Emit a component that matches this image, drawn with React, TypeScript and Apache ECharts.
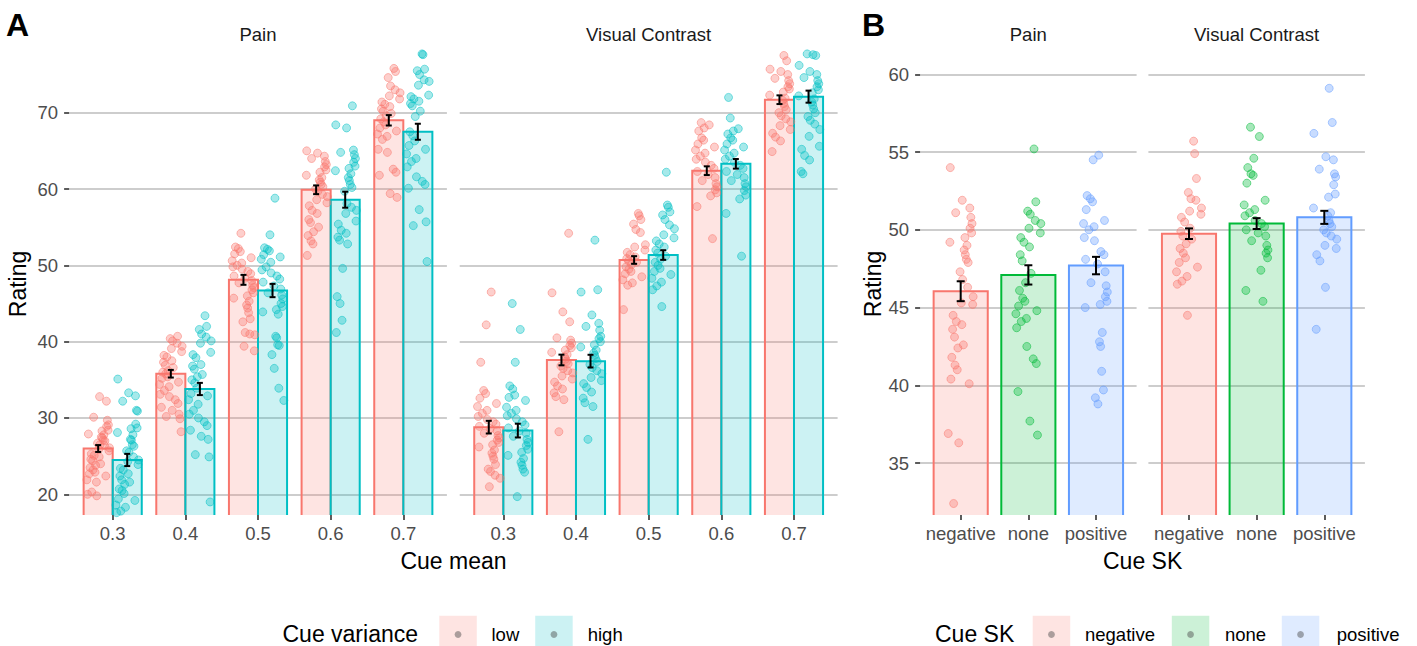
import React, { useEffect, useRef } from "react";
import * as echarts from "echarts";

// ---------- categories ----------
const cueMeans = ["0.3", "0.4", "0.5", "0.6", "0.7"];
const varianceLevels = ["low", "high"];
const skLevels = ["negative", "none", "positive"];
const tasks = ["Pain", "Visual Contrast"];
const yTicksA = [20, 30, 40, 50, 60, 70];
const yTicksB = [35, 40, 45, 50, 55, 60];

// ---------- panel A: bar means and SE ----------
const painLowMean = [26.0, 35.8, 48.1, 59.9, 69.0];
const painLowSE = [0.45, 0.5, 0.65, 0.57, 0.68];
const painHighMean = [24.5, 33.8, 46.7, 58.6, 67.5];
const painHighSE = [0.8, 0.8, 0.87, 1.05, 1.05];
const vcLowMean = [28.8, 37.6, 50.7, 62.4, 71.7];
const vcLowSE = [0.83, 0.7, 0.5, 0.57, 0.57];
const vcHighMean = [28.35, 37.45, 51.35, 63.3, 72.1];
const vcHighSE = [0.9, 0.83, 0.63, 0.63, 0.79];

// ---------- panel B: bar means and SE ----------
const skPainMean = [46.05, 47.1, 47.7];
const skPainSE = [0.64, 0.62, 0.56];
const skVcMean = [49.75, 50.4, 50.8];
const skVcSE = [0.34, 0.35, 0.42];

// ---------- panel A: individual ratings ----------
const painLow03 = [32.8, 32.2, 30.1, 29.7, 29.1, 28.9, 28.4, 28.3, 27.9, 27.8, 27.5, 27.4, 27.1, 27.0, 26.7, 26.5, 26.4, 26.1, 25.9, 25.7, 25.3, 25.1, 24.9, 24.6, 24.4, 24.0, 23.8, 23.5, 23.2, 22.9, 22.7, 22.4, 21.9, 21.6, 20.3, 20.0, 19.8];
const painLow04 = [40.7, 40.4, 40.1, 39.8, 39.4, 39.1, 38.7, 38.2, 38.0, 37.5, 37.3, 36.9, 36.6, 36.2, 36.0, 35.8, 35.4, 35.2, 34.7, 34.4, 34.1, 33.6, 33.1, 32.8, 32.4, 31.9, 31.4, 31.0, 30.5, 30.2, 29.9, 28.2];
const painLow05 = [54.2, 52.4, 52.2, 51.8, 51.5, 51.0, 50.6, 50.3, 50.0, 49.8, 49.5, 49.2, 48.9, 48.6, 48.3, 48.0, 47.7, 47.4, 47.1, 46.8, 46.4, 46.0, 45.7, 45.3, 44.8, 44.4, 43.8, 43.0, 42.6, 41.2, 41.0, 40.9, 39.4, 38.8];
const painLow06 = [65.0, 64.7, 64.3, 64.0, 63.6, 63.2, 62.9, 62.5, 62.2, 61.8, 61.5, 61.2, 60.9, 60.6, 60.3, 60.0, 59.7, 59.3, 59.0, 58.6, 58.2, 57.8, 57.2, 56.8, 56.0, 55.6, 55.0, 54.4, 53.9, 53.2, 52.8, 51.3];
const painLow07 = [75.8, 75.4, 74.6, 73.5, 73.0, 72.6, 72.2, 71.8, 71.4, 71.1, 70.8, 70.5, 70.2, 69.9, 69.6, 69.2, 68.8, 68.4, 68.0, 67.6, 67.2, 66.9, 66.5, 65.2, 64.8, 62.6, 62.2, 61.8, 59.4, 58.9];

const painHigh03 = [35.1, 33.3, 32.9, 32.2, 31.0, 30.9, 29.2, 28.7, 28.6, 28.1, 27.8, 27.2, 27.1, 26.5, 26.3, 25.7, 25.5, 24.9, 24.5, 24.3, 23.9, 23.4, 23.2, 22.7, 22.4, 21.9, 21.6, 21.3, 20.7, 20.5, 20.1, 19.4, 19.2, 18.6, 18.3, 17.8, 17.6];
const painHigh04 = [43.4, 42.0, 41.6, 41.0, 40.6, 40.1, 39.8, 38.6, 38.3, 37.9, 37.0, 36.8, 36.4, 35.7, 35.4, 35.0, 34.6, 33.9, 33.2, 32.9, 32.4, 31.8, 31.0, 30.5, 30.0, 29.5, 29.0, 28.4, 27.6, 27.2, 25.2, 24.9, 19.0];
const painHigh05 = [58.8, 54.0, 52.3, 52.1, 51.9, 51.4, 51.1, 50.8, 50.4, 49.8, 49.4, 49.0, 48.6, 48.2, 47.8, 47.3, 46.9, 46.4, 46.1, 45.6, 45.0, 44.6, 44.2, 43.9, 43.6, 40.7, 40.5, 39.6, 39.5, 38.3, 36.5, 33.9, 32.3];
const painHigh06 = [70.9, 68.4, 68.0, 65.1, 64.8, 64.5, 64.0, 63.5, 63.0, 62.7, 62.4, 62.0, 61.5, 61.1, 60.6, 60.2, 59.7, 58.1, 57.6, 57.2, 56.8, 55.8, 55.4, 54.6, 54.2, 53.7, 53.3, 52.8, 49.6, 45.9, 45.0, 42.8, 41.2];
const painHigh07 = [77.7, 77.6, 75.7, 75.5, 75.0, 74.3, 74.1, 73.6, 72.3, 72.1, 71.8, 71.5, 71.2, 70.9, 70.2, 69.5, 67.5, 67.0, 66.3, 65.7, 65.2, 64.6, 64.0, 63.6, 62.9, 61.6, 61.0, 60.6, 60.1, 57.3, 55.7, 55.2, 50.5];

const vcLow03 = [46.5, 42.2, 37.3, 33.6, 33.2, 32.6, 31.9, 31.5, 31.0, 30.6, 30.2, 29.8, 29.5, 29.2, 28.9, 28.6, 28.3, 28.0, 27.7, 27.4, 27.1, 26.8, 26.5, 26.2, 25.8, 25.4, 25.0, 24.6, 23.9, 23.3, 23.0, 22.5, 22.1, 21.0];
const vcLow04 = [54.2, 46.4, 43.9, 42.6, 40.5, 40.2, 39.8, 39.5, 39.2, 38.9, 38.6, 38.3, 38.0, 37.7, 37.4, 37.1, 36.8, 36.5, 36.2, 35.9, 35.5, 35.1, 34.7, 34.2, 33.8, 33.3, 32.8, 32.4, 28.2];
const vcLow05 = [56.8, 56.5, 56.0, 55.4, 54.7, 54.3, 52.7, 52.4, 52.0, 51.7, 51.4, 51.1, 50.9, 50.6, 50.4, 50.1, 49.8, 49.5, 49.2, 48.9, 48.5, 48.1, 47.7, 47.4, 44.2];
const vcLow06 = [68.7, 68.4, 68.0, 67.6, 66.7, 66.4, 65.9, 65.5, 65.1, 64.7, 64.3, 63.9, 63.5, 63.1, 62.7, 62.3, 61.9, 61.5, 61.1, 60.7, 60.3, 59.9, 59.5, 59.1, 57.7, 53.5];
const vcLow07 = [77.5, 76.8, 75.7, 75.4, 75.0, 74.5, 74.2, 73.8, 73.4, 73.1, 72.7, 72.3, 71.9, 71.6, 71.2, 70.8, 70.4, 70.0, 69.6, 69.2, 68.8, 68.3, 67.8, 67.3, 66.8, 66.3, 64.9];

const vcHigh03 = [45.0, 41.6, 37.3, 34.2, 33.8, 33.0, 32.7, 32.3, 31.4, 31.0, 30.6, 30.3, 29.9, 29.5, 29.1, 28.7, 28.3, 28.0, 27.6, 27.2, 26.8, 26.4, 25.9, 25.5, 25.1, 24.7, 24.2, 23.8, 23.3, 22.9, 19.7];
const vcHigh04 = [53.3, 46.8, 46.5, 43.5, 42.4, 42.0, 41.5, 40.7, 40.4, 40.0, 39.6, 39.3, 38.9, 38.5, 38.2, 37.8, 37.4, 37.0, 36.6, 36.2, 35.8, 35.3, 34.9, 34.5, 34.0, 33.4, 32.6, 32.0, 31.5, 27.2];
const vcHigh05 = [62.2, 57.9, 57.6, 57.0, 56.6, 56.0, 55.3, 54.8, 54.0, 53.6, 53.2, 52.8, 52.4, 52.0, 51.6, 51.2, 50.8, 50.4, 50.0, 49.6, 49.2, 48.8, 48.3, 47.8, 47.3, 46.8, 44.6];
const vcHigh06 = [72.0, 69.3, 67.9, 67.6, 67.2, 66.7, 66.4, 65.9, 65.5, 65.1, 64.7, 64.3, 63.9, 63.5, 63.1, 62.7, 62.3, 61.9, 61.5, 61.1, 60.7, 60.3, 59.8, 59.2, 58.7, 56.8, 51.2];
const vcHigh07 = [77.7, 77.6, 77.5, 76.2, 75.4, 75.0, 74.6, 74.2, 73.8, 73.4, 73.0, 72.6, 72.2, 71.8, 71.4, 71.0, 70.5, 70.0, 69.5, 69.0, 68.5, 67.8, 66.9, 65.6, 65.2, 64.4, 63.8, 62.3, 62.0];

// ---------- panel B: individual ratings ----------
const skPainNegative = [54.0, 51.9, 51.4, 51.1, 50.8, 50.4, 50.1, 49.8, 49.5, 49.2, 49.0, 48.7, 48.4, 48.1, 47.9, 47.3, 46.8, 46.3, 45.7, 45.3, 45.2, 44.5, 44.1, 43.9, 43.6, 43.1, 42.6, 42.4, 41.8, 41.3, 41.0, 40.4, 40.1, 36.9, 36.3, 32.4];
const skPainNone = [55.2, 51.8, 51.2, 51.0, 50.6, 50.4, 50.1, 49.8, 49.5, 49.2, 48.9, 48.4, 48.0, 47.2, 46.6, 46.1, 45.6, 45.4, 45.1, 44.8, 44.6, 44.3, 44.1, 43.7, 42.5, 41.7, 41.4, 39.6, 37.7, 36.8];
const skPainPositive = [54.8, 54.5, 52.2, 52.0, 51.8, 51.3, 50.6, 50.4, 50.2, 50.0, 49.5, 49.3, 48.6, 48.4, 48.1, 47.8, 47.3, 46.6, 46.4, 46.0, 45.7, 45.4, 45.2, 45.0, 43.4, 42.8, 42.5, 40.9, 39.7, 39.2, 38.8];
const skVcNegative = [55.7, 54.9, 53.3, 52.4, 52.0, 51.9, 51.4, 51.2, 51.0, 50.8, 50.5, 50.1, 49.9, 49.6, 49.4, 49.1, 48.8, 48.5, 48.2, 47.9, 47.6, 47.3, 47.0, 46.7, 46.5, 44.5];
const skVcNone = [56.6, 56.0, 54.6, 54.0, 53.6, 53.5, 53.0, 51.9, 51.6, 51.3, 51.1, 50.9, 50.6, 50.4, 50.2, 50.0, 49.8, 49.6, 49.3, 49.0, 48.7, 48.5, 48.2, 47.4, 46.1, 45.4];
const skVcPositive = [59.1, 56.9, 56.2, 54.7, 54.5, 53.9, 53.6, 53.4, 52.9, 52.3, 52.1, 51.4, 51.1, 50.9, 50.6, 50.4, 50.2, 50.0, 49.8, 49.6, 49.4, 49.0, 48.8, 48.4, 48.0, 46.3, 43.6];

// fixed horizontal jitter pattern (fractions of the jitter half-width)
const jitterPattern = [0.12, -0.63, 0.85, -0.27, 0.44, -0.91, 0.05, 0.71, -0.48, 0.33, -0.76, 0.58, -0.12, 0.93, -0.39, 0.21, -0.84, 0.66, -0.05, 0.38, -0.59, 0.79, -0.22, 0.49, -0.97, 0.15, 0.62, -0.34, 0.88, -0.69, 0.27, -0.15, 0.54, -0.81, 0.09, 0.73, -0.44, 0.36, -0.55, 0.97];

const FONT = '"Liberation Sans", Arial, Helvetica, sans-serif';
const RED = [248, 118, 109];
const TEAL = [0, 191, 196];
const GREEN = [0, 186, 56];
const BLUE = [97, 156, 255];
const rgba = (c: number[], a: number) => `rgba(${c[0]},${c[1]},${c[2]},${a})`;

const A_MIN = 17.29;
const A_MAX = 77.78;
const B_MIN = 31.66;
const B_MAX = 61.35;

function jit(i: number, seed: number) {
  return jitterPattern[(i * 7 + seed * 11) % jitterPattern.length];
}

function barSeries(grid: number, data: number[][], color: number[], halfW: number, yMin: number) {
  return {
    type: "custom",
    xAxisIndex: grid,
    yAxisIndex: grid,
    z: 2,
    silent: true,
    data,
    renderItem: (params: any, api: any) => {
      const x = api.value(0) + api.value(3);
      const m = api.value(1);
      const tl = api.coord([x - halfW, m]);
      const br = api.coord([x + halfW, yMin]);
      return {
        type: "group",
        children: [
          {
            type: "rect",
            shape: { x: tl[0], y: tl[1], width: br[0] - tl[0], height: br[1] - tl[1] },
            style: { fill: rgba(color, 0.2) },
          },
          {
            type: "polyline",
            shape: { points: [[tl[0], br[1]], [tl[0], tl[1]], [br[0], tl[1]], [br[0], br[1]]] },
            style: { stroke: rgba(color, 1), lineWidth: 2, fill: "none" },
          },
        ],
      };
    },
  };
}

function errSeries(grid: number, data: number[][], capPx: number) {
  return {
    type: "custom",
    xAxisIndex: grid,
    yAxisIndex: grid,
    z: 4,
    silent: true,
    data,
    renderItem: (params: any, api: any) => {
      const x = api.value(0) + api.value(3);
      const m = api.value(1);
      const se = api.value(2);
      const top = api.coord([x, m + se]);
      const bot = api.coord([x, m - se]);
      const st = { stroke: "#000", lineWidth: 2 };
      return {
        type: "group",
        children: [
          { type: "line", shape: { x1: top[0], y1: top[1], x2: bot[0], y2: bot[1] }, style: st },
          { type: "line", shape: { x1: top[0] - capPx, y1: top[1], x2: top[0] + capPx, y2: top[1] }, style: st },
          { type: "line", shape: { x1: bot[0] - capPx, y1: bot[1], x2: bot[0] + capPx, y2: bot[1] }, style: st },
        ],
      };
    },
  };
}

// groups[c] = ratings for category c; drawn at category c + offset with jitter
function pointSeries(grid: number, groups: number[][], cats: number[], offset: number, jw: number, color: number[], seed: number) {
  const data: number[][] = [];
  groups.forEach((vals, gi) => {
    const c = cats[gi];
    vals.forEach((v, i) => {
      data.push([c + offset + jit(i, seed + c) * jw, v]);
    });
  });
  return {
    type: "scatter",
    xAxisIndex: grid,
    yAxisIndex: grid,
    z: 3,
    silent: true,
    symbol: "circle",
    symbolSize: 8,
    clip: true,
    itemStyle: { color: rgba(color, 0.35), borderColor: rgba(color, 0.55), borderWidth: 0.9, opacity: 1 },
    data,
  };
}

const meanData = (means: number[], ses: number[], off: number) => means.map((m, c) => [c, m, ses[c], off]);

export default function App() {
  const ref = useRef<HTMLDivElement>(null);
  useEffect(() => {
    document.body.style.margin = "0";
    if (!ref.current) return;
    const chart = echarts.init(ref.current, null, { renderer: "svg" });

    const grids = [
      { left: 69.1, top: 53.3, width: 377.8, height: 461.7 },
      { left: 459.7, top: 53.3, width: 377.9, height: 461.7 },
      { left: 920.1, top: 53.3, width: 216.5, height: 461.7 },
      { left: 1148.4, top: 53.3, width: 216.5, height: 461.7 },
    ];

    const xAxis = grids.map((_, g) => {
      const labels = g < 2 ? cueMeans : skLevels;
      const idx = labels.map((_, i) => i);
      return {
        type: "value",
        gridIndex: g,
        min: -0.6,
        max: labels.length - 0.4,
        splitLine: { show: false },
        axisLine: { show: false, onZero: false },
        axisTick: { show: true, customValues: idx, length: 5, lineStyle: { color: "#333", width: 1.6 } },
        axisLabel: {
          show: true,
          customValues: idx,
          formatter: (v: number) => labels[Math.round(v)] ?? "",
          color: "#4d4d4d",
          fontSize: 18.5,
          fontFamily: FONT,
          margin: 9,
        },
      };
    });

    const yAxis = grids.map((_, g) => {
      const ticks = g < 2 ? yTicksA : yTicksB;
      const showLab = g === 0 || g === 2;
      return {
        type: "value",
        gridIndex: g,
        min: g < 2 ? A_MIN : B_MIN,
        max: g < 2 ? A_MAX : B_MAX,
        axisLine: { show: false, onZero: false },
        axisTick: { show: showLab, customValues: ticks, length: 5, lineStyle: { color: "#333", width: 1.6 } },
        axisLabel: {
          show: showLab,
          customValues: ticks,
          color: "#4d4d4d",
          fontSize: 18.5,
          fontFamily: FONT,
          margin: 11,
        },
        splitLine: { show: true, lineStyle: { color: "#bdbdbd", width: 1.6 } },
      };
    });

    const catsA = cueMeans.map((_, i) => i);
    const painLowPts = [painLow03, painLow04, painLow05, painLow06, painLow07];
    const painHighPts = [painHigh03, painHigh04, painHigh05, painHigh06, painHigh07];
    const vcLowPts = [vcLow03, vcLow04, vcLow05, vcLow06, vcLow07];
    const vcHighPts = [vcHigh03, vcHigh04, vcHigh05, vcHigh06, vcHigh07];
    const skPainPts = [skPainNegative, skPainNone, skPainPositive];
    const skVcPts = [skVcNegative, skVcNone, skVcPositive];
    const skColors = [RED, GREEN, BLUE];

    const series: any[] = [];
    // Panel A
    const aPanels = [
      { g: 0, levels: [[painLowMean, painLowSE, painLowPts], [painHighMean, painHighSE, painHighPts]] },
      { g: 1, levels: [[vcLowMean, vcLowSE, vcLowPts], [vcHighMean, vcHighSE, vcHighPts]] },
    ];
    aPanels.forEach((p, pi) => {
      p.levels.forEach((lv: any, li) => {
        const off = li === 0 ? -0.2 : 0.2;
        const col = li === 0 ? RED : TEAL;
        series.push(barSeries(p.g, meanData(lv[0], lv[1], off), col, 0.2, A_MIN));
        series.push(pointSeries(p.g, lv[2], catsA, off, 0.16, col, pi * 5 + li * 3));
        series.push(errSeries(p.g, meanData(lv[0], lv[1], off), 3));
      });
    });
    // Panel B
    [
      { g: 2, means: skPainMean, ses: skPainSE, pts: skPainPts },
      { g: 3, means: skVcMean, ses: skVcSE, pts: skVcPts },
    ].forEach((p, pi) => {
      skLevels.forEach((_, k) => {
        const col = skColors[k];
        series.push(barSeries(p.g, [[k, p.means[k], p.ses[k], 0]], col, 0.4, B_MIN));
        series.push(pointSeries(p.g, [p.pts[k]], [k], 0, 0.19, col, 3 + pi * 4));
        series.push(errSeries(p.g, [[k, p.means[k], p.ses[k], 0]], 4));
      });
    });

    const txt = (text: string, x: number, y: number, size: number, extra: any = {}) => {
      const { fill, fontWeight, align, ...rest } = extra;
      return {
        type: "text",
        x,
        y,
        silent: true,
        ...rest,
        style: {
          text,
          fontSize: size,
          fontFamily: FONT,
          fill: fill || "#000",
          fontWeight: fontWeight || "normal",
          align: align || "center",
          verticalAlign: "middle",
        },
      };
    };

    const graphic: any[] = [
      txt("A", 6, 25, 32, { align: "left", fontWeight: "bold" }),
      txt("B", 862, 25, 32, { align: "left", fontWeight: "bold" }),
      txt(tasks[0], 258, 34, 18.5, { fill: "#1a1a1a" }),
      txt(tasks[1], 648.6, 34, 18.5, { fill: "#1a1a1a" }),
      txt(tasks[0], 1028.3, 34, 18.5, { fill: "#1a1a1a" }),
      txt(tasks[1], 1256.6, 34, 18.5, { fill: "#1a1a1a" }),
      txt("Cue mean", 453.5, 561, 23),
      txt("Cue SK", 1142.6, 561, 23),
      txt("Rating", 18, 284, 23, { rotation: Math.PI / 2 }),
      txt("Rating", 873, 284, 23, { rotation: Math.PI / 2 }),
      txt("Cue variance", 282.5, 633.5, 23, { align: "left" }),
      txt("Cue SK", 935, 633.5, 23, { align: "left" }),
    ];
    const keyBox = (x: number, col: number[], label: string, lx: number) => {
      graphic.push({ type: "rect", silent: true, shape: { x, y: 615.7, width: 37.5, height: 40 }, style: { fill: rgba(col, 0.2) } });
      graphic.push({ type: "circle", silent: true, shape: { cx: x + 18.75, cy: 634.5, r: 3.4 }, style: { fill: "rgba(70,70,70,0.45)" } });
      graphic.push(txt(label, lx, 634, 18.5, { align: "left" }));
    };
    keyBox(439.3, RED, varianceLevels[0], 491.5);
    keyBox(535.2, TEAL, varianceLevels[1], 587.7);
    keyBox(1032.7, RED, skLevels[0], 1085);
    keyBox(1171.8, GREEN, skLevels[1], 1225);
    keyBox(1281.8, BLUE, skLevels[2], 1336.7);

    chart.setOption({
      animation: false,
      backgroundColor: "#fff",
      grid: grids,
      xAxis,
      yAxis,
      series,
      graphic,
    });
    return () => chart.dispose();
  }, []);
  return <div ref={ref} style={{ width: 1417, height: 646 }} />;
}
